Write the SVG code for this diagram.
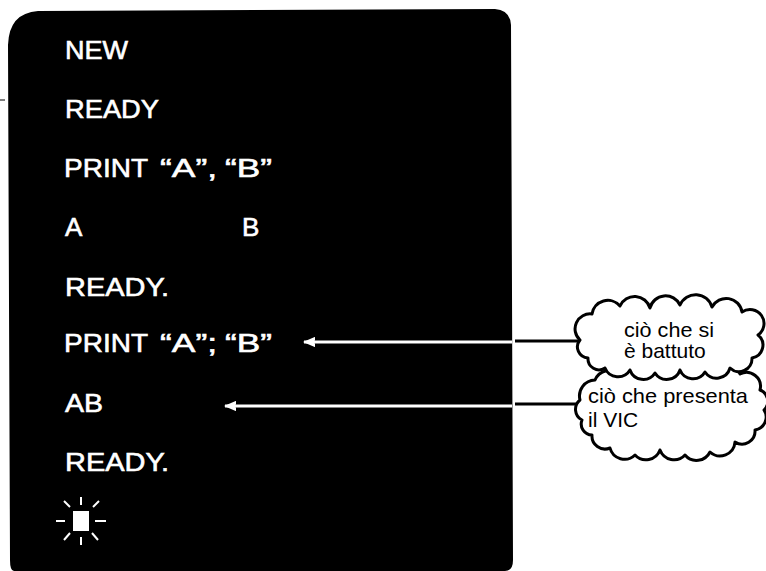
<svg xmlns="http://www.w3.org/2000/svg" width="766" height="571" viewBox="0 0 766 571">
<style>
.scr{font-family:"Liberation Sans",Arial,sans-serif;font-size:26px;fill:#fff;stroke:#fff;stroke-width:0.6}
.cl{font-family:"Liberation Sans",Arial,sans-serif;font-size:21px;fill:#000}
.cloud{fill:#fff;stroke:#000;stroke-width:3;stroke-linejoin:round}
.wl{stroke:#fff;stroke-width:3}
.bl{stroke:#000;stroke-width:3}
.ray{stroke:#fff;stroke-width:2}
</style>
<defs>
<marker id="ah" markerWidth="12" markerHeight="10" refX="1" refY="5" orient="auto" markerUnits="userSpaceOnUse">
<path d="M0,5 L14,-1 L11,5 L14,11 Z" fill="#fff"/>
</marker>
</defs>
<rect width="766" height="571" fill="#fff"/>
<g id="screen">
<path d="M8,45 Q9,13 38,11 L495,9 Q510,10 511,25 L513,560 Q513,571 505,571 L14,571 Q10,571 10,560 Z" fill="#000"/>
<line x1="0" y1="100" x2="5" y2="100" stroke="#000" stroke-width="1"/>
<text class="scr" x="65" y="59" textLength="63" lengthAdjust="spacingAndGlyphs">NEW</text>
<text class="scr" x="65" y="118" textLength="94" lengthAdjust="spacingAndGlyphs">READY</text>
<text class="scr" y="177"><tspan x="64" textLength="84" lengthAdjust="spacingAndGlyphs">PRINT</tspan><tspan x="160" textLength="57" lengthAdjust="spacingAndGlyphs">“A”,</tspan><tspan x="225" textLength="47" lengthAdjust="spacingAndGlyphs">“B”</tspan></text>
<text class="scr" x="65" y="236">A</text>
<text class="scr" x="242" y="236">B</text>
<text class="scr" x="65" y="296" textLength="104" lengthAdjust="spacingAndGlyphs">READY.</text>
<text class="scr" y="352"><tspan x="64" textLength="84" lengthAdjust="spacingAndGlyphs">PRINT</tspan><tspan x="160" textLength="57" lengthAdjust="spacingAndGlyphs">“A”;</tspan><tspan x="225" textLength="47" lengthAdjust="spacingAndGlyphs">“B”</tspan></text>
<text class="scr" x="65" y="412" textLength="38" lengthAdjust="spacingAndGlyphs">AB</text>
<text class="scr" x="65" y="471" textLength="104" lengthAdjust="spacingAndGlyphs">READY.</text>
</g>
<g id="cursor">
<rect x="73" y="511" width="16" height="20" fill="#fff"/>
<line class="ray" x1="81" y1="497" x2="81" y2="505"/>
<line class="ray" x1="81" y1="537" x2="81" y2="545"/>
<line class="ray" x1="56" y1="521" x2="65" y2="521"/>
<line class="ray" x1="95" y1="521" x2="106" y2="521"/>
<line class="ray" x1="64" y1="501" x2="70" y2="507"/>
<line class="ray" x1="99" y1="501" x2="93" y2="507"/>
<line class="ray" x1="64" y1="540" x2="70" y2="533"/>
<line class="ray" x1="98" y1="540" x2="92" y2="533"/>
</g>
<g id="connectors">
<line class="wl" x1="304" y1="342" x2="512" y2="342" marker-start="url(#ah)"/>
<line class="bl" x1="515" y1="341" x2="582" y2="341"/>
<line class="wl" x1="225" y1="406" x2="512" y2="406" marker-start="url(#ah)"/>
<line class="bl" x1="515" y1="404" x2="582" y2="404"/>
</g>
<g id="cloud2">
<path class="cloud" d="M580,400 A16,16 0 0 1 595,380 A16,16 0 0 1 620,374 A16,16 0 0 1 650,376 A16,16 0 0 1 680,372 A16,16 0 0 1 710,375 A16,16 0 0 1 740,374 A14,14 0 0 1 760,390 A12,12 0 0 1 764,410 A13,13 0 0 1 755,430 A13,13 0 0 1 735,442 A15,15 0 0 1 710,452 A15,15 0 0 1 685,455 A15,15 0 0 1 660,450 A15,15 0 0 1 635,455 A15,15 0 0 1 610,448 A13,13 0 0 1 592,435 A11,11 0 0 1 582,420 A12,12 0 0 1 580,400 Z"/>
<text class="cl" x="588" y="403" textLength="160" lengthAdjust="spacingAndGlyphs">ciò che presenta</text>
<text class="cl" x="588" y="427">il VIC</text>
</g>
<g id="cloud1">
<path class="cloud" d="M580,340 A15,15 0 0 1 592,314 A16,16 0 0 1 620,306 A16,16 0 0 1 650,308 A16,16 0 0 1 680,305 A17,17 0 0 1 712,307 A16,16 0 0 1 742,312 A14,14 0 0 1 758,335 A13,13 0 0 1 752,358 A13,13 0 0 1 730,368 A14,14 0 0 1 705,372 A14,14 0 0 1 680,370 A14,14 0 0 1 655,373 A14,14 0 0 1 630,370 A14,14 0 0 1 605,368 A11,11 0 0 1 588,358 A11,11 0 0 1 580,340 Z"/>
<text class="cl" x="624" y="337" textLength="90" lengthAdjust="spacingAndGlyphs">ciò che si</text>
<text class="cl" x="624" y="358">è battuto</text>
</g>
</svg>
